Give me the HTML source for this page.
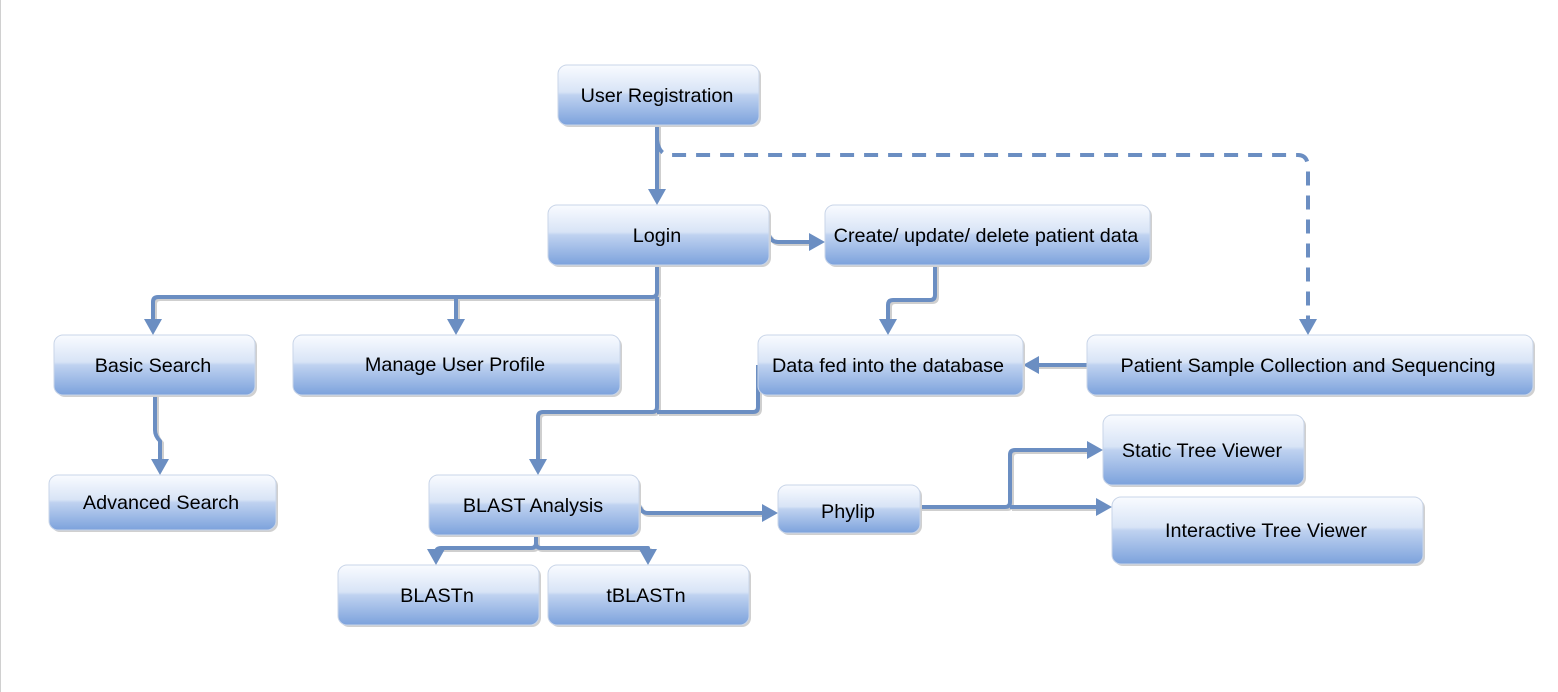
<!DOCTYPE html>
<html><head><meta charset="utf-8"><style>
html,body{margin:0;padding:0;background:#fff;}
svg{display:block;}
text{font-family:"Liberation Sans",Arial,sans-serif;font-size:19.8px;fill:#000;}
</style></head><body>
<svg width="1558" height="692" viewBox="0 0 1558 692" xmlns="http://www.w3.org/2000/svg">
<defs>
<linearGradient id="g" x1="0" y1="0" x2="0" y2="1">
<stop offset="0" stop-color="#f9fbff"/>
<stop offset="0.45" stop-color="#d8e4f6"/>
<stop offset="0.5" stop-color="#bfd2f0"/>
<stop offset="1" stop-color="#7ca2dc"/>
</linearGradient>
</defs>
<rect x="0" y="0" width="1" height="692" fill="#d0d0d0"/>

<g fill="none" stroke-linejoin="round" stroke-linecap="butt">
<g stroke="#cfcfcf" stroke-width="4" transform="translate(2,2)">
<path d="M657 125 V192"/>
<path d="M657 265 V292 Q657 297 652 297 H158 Q153 297 153 302 V322"/>
<path d="M456 297 V322"/>
<path d="M657 297 V407 Q657 412 652 412 H543 Q538 412 538 417 V462"/>
<path d="M758 365 V407 Q758 412 753 412 H657"/>
<path d="M769 235 Q771 242 778 242 H812"/>
<path d="M935 265 V295 Q935 300 930 300 H893 Q888 300 888 305 V322"/>
<path d="M1087 365 H1036"/>
<path d="M155 395 V430 Q155 436 160 441 V462"/>
<path d="M639 505 Q641 513 648 513 H765"/>
<path d="M920 507 H1005 Q1010 507 1010 502 V455 Q1010 450 1015 450 H1090"/>
<path d="M1010 507 H1099"/>
<path d="M536 535 V543 Q536 548 531 548 H441 Q436 548 436 553 V555"/>
<path d="M536 543 Q536 548 541 548 H648 V555"/>
</g>
<g stroke="#6b8ec2" stroke-width="4">
<path d="M657 125 V192"/>
<path d="M657 265 V292 Q657 297 652 297 H158 Q153 297 153 302 V322"/>
<path d="M456 297 V322"/>
<path d="M657 297 V407 Q657 412 652 412 H543 Q538 412 538 417 V462"/>
<path d="M758 365 V407 Q758 412 753 412 H657"/>
<path d="M769 235 Q771 242 778 242 H812"/>
<path d="M935 265 V295 Q935 300 930 300 H893 Q888 300 888 305 V322"/>
<path d="M1087 365 H1036"/>
<path d="M155 395 V430 Q155 436 160 441 V462"/>
<path d="M639 505 Q641 513 648 513 H765"/>
<path d="M920 507 H1005 Q1010 507 1010 502 V455 Q1010 450 1015 450 H1090"/>
<path d="M1010 507 H1099"/>
<path d="M536 535 V543 Q536 548 531 548 H441 Q436 548 436 553 V555"/>
<path d="M536 543 Q536 548 541 548 H648 V555"/>
<path d="M657 140 Q659 155 670 155 H1298 Q1308 155 1308 168 V322" stroke-dasharray="14,10"/>
</g>
</g>
<g fill="#6b8ec2">
<path d="M648 189 L666 189 L657 205 Z"/>
<path d="M144 319 L162 319 L153 335 Z"/>
<path d="M447 319 L465 319 L456 335 Z"/>
<path d="M529 459 L547 459 L538 475 Z"/>
<path d="M879 319 L897 319 L888 335 Z"/>
<path d="M1299 319 L1317 319 L1308 335 Z"/>
<path d="M151 459 L169 459 L160 475 Z"/>
<path d="M427 549 L445 549 L436 565 Z"/>
<path d="M639 549 L657 549 L648 565 Z"/>
<path d="M809 233 L825 242 L809 251 Z"/>
<path d="M1039 356 L1023 365 L1039 374 Z"/>
<path d="M762 504 L778 513 L762 522 Z"/>
<path d="M1087 441 L1103 450 L1087 459 Z"/>
<path d="M1096 498 L1112 507 L1096 516 Z"/>
</g>

<g stroke="#c9d5e8" stroke-width="1" fill="url(#g)">
<rect x="560" y="67" width="201" height="60" rx="9" fill="#d0d0d0" stroke="none"/><rect x="558" y="65" width="201" height="60" rx="9"/>
<rect x="550" y="207" width="221" height="60" rx="9" fill="#d0d0d0" stroke="none"/><rect x="548" y="205" width="221" height="60" rx="9"/>
<rect x="827" y="207" width="325" height="60" rx="9" fill="#d0d0d0" stroke="none"/><rect x="825" y="205" width="325" height="60" rx="9"/>
<rect x="56" y="337" width="201" height="60" rx="9" fill="#d0d0d0" stroke="none"/><rect x="54" y="335" width="201" height="60" rx="9"/>
<rect x="295" y="337" width="327" height="60" rx="9" fill="#d0d0d0" stroke="none"/><rect x="293" y="335" width="327" height="60" rx="9"/>
<rect x="760" y="337" width="265" height="60" rx="9" fill="#d0d0d0" stroke="none"/><rect x="758" y="335" width="265" height="60" rx="9"/>
<rect x="1089" y="337" width="446" height="60" rx="9" fill="#d0d0d0" stroke="none"/><rect x="1087" y="335" width="446" height="60" rx="9"/>
<rect x="51" y="477" width="227" height="55" rx="9" fill="#d0d0d0" stroke="none"/><rect x="49" y="475" width="227" height="55" rx="9"/>
<rect x="431" y="477" width="210" height="60" rx="9" fill="#d0d0d0" stroke="none"/><rect x="429" y="475" width="210" height="60" rx="9"/>
<rect x="780" y="487" width="142" height="48" rx="9" fill="#d0d0d0" stroke="none"/><rect x="778" y="485" width="142" height="48" rx="9"/>
<rect x="1105" y="417" width="201" height="70" rx="9" fill="#d0d0d0" stroke="none"/><rect x="1103" y="415" width="201" height="70" rx="9"/>
<rect x="1114" y="499" width="311" height="67" rx="9" fill="#d0d0d0" stroke="none"/><rect x="1112" y="497" width="311" height="67" rx="9"/>
<rect x="340" y="567" width="201" height="60" rx="9" fill="#d0d0d0" stroke="none"/><rect x="338" y="565" width="201" height="60" rx="9"/>
<rect x="550" y="567" width="201" height="60" rx="9" fill="#d0d0d0" stroke="none"/><rect x="548" y="565" width="201" height="60" rx="9"/>
</g>

<g text-anchor="middle">
<text x="657" y="102">User Registration</text>
<text x="657" y="242">Login</text>
<text x="986" y="242">Create/ update/ delete patient data</text>
<text x="153" y="372">Basic Search</text>
<text x="455" y="371">Manage User Profile</text>
<text x="888" y="372">Data fed into the database</text>
<text x="1308" y="372">Patient Sample Collection and Sequencing</text>
<text x="161" y="509">Advanced Search</text>
<text x="533" y="512">BLAST Analysis</text>
<text x="848" y="518">Phylip</text>
<text x="1202" y="457">Static Tree Viewer</text>
<text x="1266" y="537">Interactive Tree Viewer</text>
<text x="437" y="602">BLASTn</text>
<text x="646" y="602">tBLASTn</text>
</g>
</svg>
</body></html>
